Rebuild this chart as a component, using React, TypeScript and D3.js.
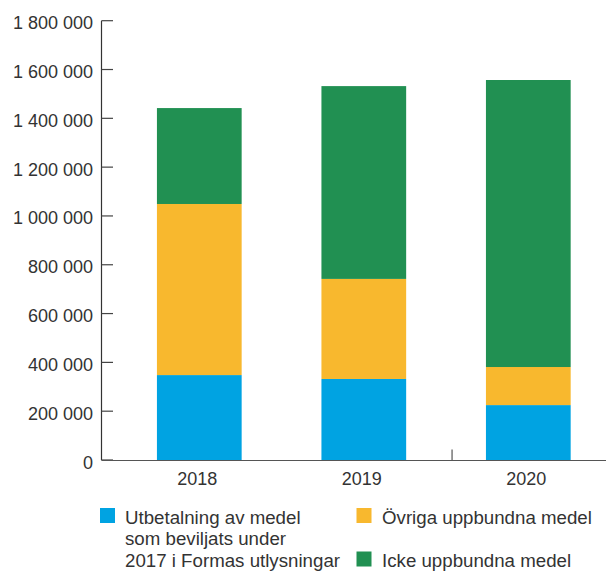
import React from "react";
import * as d3 from "d3";

const years = ["2018", "2019", "2020"];
const utbetalning = [348000, 332000, 225000];
const ovriga = [701000, 410000, 156000];
const icke = [393000, 790000, 1176000];
const yTicks = [0, 200000, 400000, 600000, 800000, 1000000, 1200000, 1400000, 1600000, 1800000];
const seriesKeys = ["utbetalning", "ovriga", "icke"];
const seriesColors = ["#00A3E2", "#F8B82E", "#219052"];
const legendLabels = [
  ["Utbetalning av medel", "som beviljats under", "2017 i Formas utlysningar"],
  ["Övriga uppbundna medel"],
  ["Icke uppbundna medel"],
];

const W = 606;
const H = 572;
const FONT = "'Liberation Sans', Arial, Helvetica, sans-serif";
const TEXT = "#333";
const LEG_FS = 18.7;

export default function App() {
  const rows = years.map((y, i) => ({
    year: y,
    utbetalning: utbetalning[i],
    ovriga: ovriga[i],
    icke: icke[i],
  }));
  const stack = d3.stack<any>().keys(seriesKeys)(rows);

  const y = d3.scaleLinear().domain([0, 1800000]).range([460, 20.7]);
  const x = d3
    .scaleBand()
    .domain(years)
    .range([101, 626.6])
    .paddingInner(0.485)
    .paddingOuter(0.34);

  const fmt = (v: number) => d3.format(",")(v).replace(/,/g, " ");
  const axisX = 101.5;
  const extraTickX = (x("2019")! + x.bandwidth() + x("2020")!) / 2 + 6;

  return (
    <svg
      width={W}
      height={H}
      style={{ position: "absolute", left: 0, top: 0, background: "#fff" }}
      fontFamily={FONT}
    >
      {/* bars */}
      {stack.map((s, si) =>
        s.map((d, i) => (
          <rect
            key={si + "-" + i}
            x={x(years[i])}
            width={x.bandwidth()}
            y={y(d[1])}
            height={y(d[0]) - y(d[1])}
            fill={seriesColors[si]}
          />
        ))
      )}
      {/* y axis */}
      <line x1={axisX} x2={axisX} y1={y(1800000)} y2={y(0)} stroke="#333" strokeWidth={1.2} />
      {yTicks.map((t) => (
        <g key={t}>
          <line x1={axisX} x2={113} y1={y(t)} y2={y(t)} stroke="#444" strokeWidth={1.2} />
          <text x={93} y={y(t) + 8.5} textAnchor="end" fontSize={18} fill={TEXT}>
            {fmt(t)}
          </text>
        </g>
      ))}
      {/* x axis */}
      <line x1={axisX} x2={W} y1={y(0) + 0.5} y2={y(0) + 0.5} stroke="#555" strokeWidth={1.2} />
      <line x1={extraTickX} x2={extraTickX} y1={449.5} y2={460} stroke="#555" strokeWidth={1.2} />
      {years.map((yr) => (
        <text
          key={yr}
          x={x(yr)! + x.bandwidth() / 2 - 2}
          y={485}
          textAnchor="middle"
          fontSize={18}
          fill={TEXT}
        >
          {yr}
        </text>
      ))}
      {/* legend */}
      <g>
        <rect x={100} y={508} width={15} height={15} fill={seriesColors[0]} />
        {legendLabels[0].map((l, i) => (
          <text key={i} x={125} y={523.5 + i * 21.7} fontSize={LEG_FS} fill={TEXT}>
            {l}
          </text>
        ))}
        <rect x={356.5} y={508} width={15} height={15} fill={seriesColors[1]} />
        <text x={382} y={523.5} fontSize={LEG_FS} fill={TEXT}>
          {legendLabels[1][0]}
        </text>
        <rect x={356.5} y={551.5} width={15} height={15} fill={seriesColors[2]} />
        <text x={382} y={566.9} fontSize={LEG_FS} fill={TEXT}>
          {legendLabels[2][0]}
        </text>
      </g>
    </svg>
  );
}
